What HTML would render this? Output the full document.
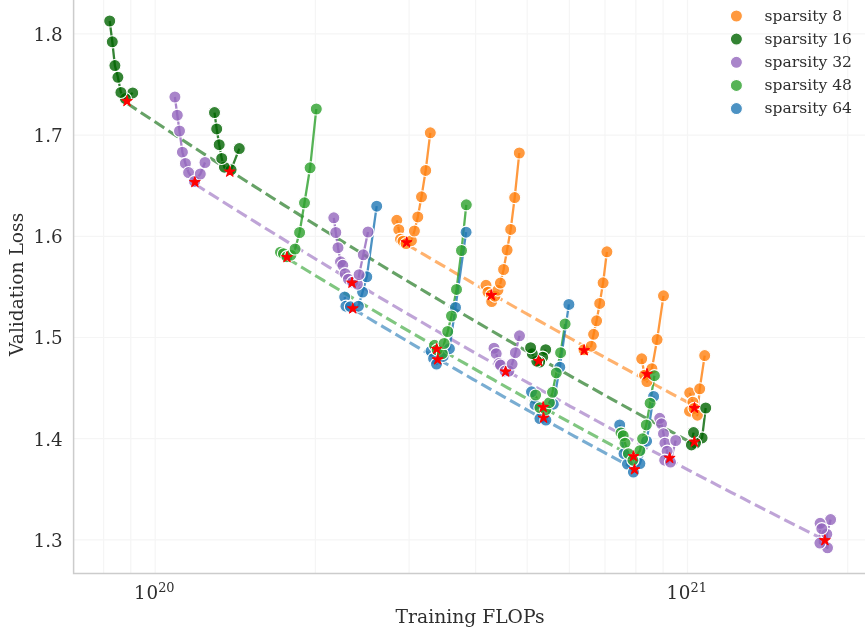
<!DOCTYPE html>
<html><head><meta charset="utf-8"><title>Validation Loss vs Training FLOPs</title>
<style>html,body{margin:0;padding:0;background:#fff}svg{display:block}</style></head>
<body>
<svg width="865" height="635" viewBox="0 0 865 635">
<rect width="865" height="635" fill="#fff"/>
<path d="M103.6 0V573.5M130.8 0V573.5M155.2 0V573.5M315.4 0V573.5M409.1 0V573.5M475.6 0V573.5M527.2 0V573.5M569.4 0V573.5M605.0 0V573.5M635.9 0V573.5M663.1 0V573.5M687.5 0V573.5M847.7 0V573.5M73.6 33.9H865M73.6 135.1H865M73.6 236.3H865M73.6 337.5H865M73.6 438.7H865M73.6 539.9H865" stroke="#cccccc" stroke-opacity="0.2" stroke-width="1.2" fill="none"/>
<path d="M73.6 0V573.5H865" stroke="#cccccc" stroke-width="1.5" fill="none"/>
<path d="M396.8 220.3 L398.8 229.7 L400.5 239.2 L403.0 241.2 L406.1 243.6 L411.4 240.7 L414.4 231.0 L417.8 216.9 L421.5 196.8 L425.7 170.4 L430.3 132.8" stroke="#ff7f0e" stroke-opacity="0.8" stroke-width="2.3" fill="none" stroke-linejoin="round"/>
<path d="M486.0 285.3 L488.0 292.2 L491.4 294.9 L491.7 301.6 L494.9 296.2 L497.9 290.2 L500.4 283.1 L503.6 269.5 L507.1 250.0 L510.7 229.4 L514.7 197.6 L519.3 153.0" stroke="#ff7f0e" stroke-opacity="0.8" stroke-width="2.3" fill="none" stroke-linejoin="round"/>
<path d="M584.0 349.7 L591.2 346.2 L593.6 334.3 L596.6 320.8 L599.7 303.4 L603.1 282.8 L606.9 251.8" stroke="#ff7f0e" stroke-opacity="0.8" stroke-width="2.3" fill="none" stroke-linejoin="round"/>
<path d="M641.7 358.8 L644.5 375.2 L646.9 381.6 L651.9 368.7 L657.1 339.6 L663.5 295.8" stroke="#ff7f0e" stroke-opacity="0.8" stroke-width="2.3" fill="none" stroke-linejoin="round"/>
<path d="M689.7 392.8 L692.9 402.2 L689.5 411.2 L694.1 408.4 L697.4 415.2 L699.7 388.8 L704.7 355.6" stroke="#ff7f0e" stroke-opacity="0.8" stroke-width="2.3" fill="none" stroke-linejoin="round"/>
<path d="M406.60 244.34 L412.73 247.96 L418.85 251.57 L424.98 255.17 L431.10 258.76 L437.23 262.35 L443.35 265.93 L449.48 269.50 L455.60 273.06 L461.73 276.62 L467.86 280.17 L473.98 283.70 L480.11 287.24 L486.23 290.76 L492.36 294.27 L498.48 297.78 L504.61 301.28 L510.73 304.77 L516.86 308.25 L522.99 311.73 L529.11 315.20 L535.24 318.66 L541.36 322.11 L547.49 325.55 L553.61 328.99 L559.74 332.42 L565.86 335.84 L571.99 339.26 L578.11 342.66 L584.24 346.06 L590.37 349.45 L596.49 352.83 L602.62 356.21 L608.74 359.58 L614.87 362.94 L620.99 366.29 L627.12 369.64 L633.24 372.97 L639.37 376.30 L645.50 379.63 L651.62 382.94 L657.75 386.25 L663.87 389.55 L670.00 392.84 L676.12 396.13 L682.25 399.41 L688.37 402.68 L694.50 405.94" stroke="#ff7f0e" stroke-opacity="0.6" stroke-width="3.1" stroke-dasharray="11.55 5.0" fill="none"/>
<path d="M109.7 21.0 L112.3 41.8 L114.9 65.6 L117.9 77.3 L120.9 92.4 L125.4 98.6 L132.7 92.9" stroke="#006400" stroke-opacity="0.8" stroke-width="2.3" fill="none" stroke-linejoin="round"/>
<path d="M214.5 112.6 L216.7 128.9 L219.2 144.7 L221.7 158.4 L224.4 167.2 L231.1 169.8 L239.3 148.6" stroke="#006400" stroke-opacity="0.8" stroke-width="2.3" fill="none" stroke-linejoin="round"/>
<path d="M530.6 347.7 L532.3 353.7 L536.8 361.2 L539.7 362.1 L542.7 357.2 L545.7 349.7" stroke="#006400" stroke-opacity="0.8" stroke-width="2.3" fill="none" stroke-linejoin="round"/>
<path d="M693.5 432.6 L691.4 444.9 L695.5 443.1 L702.1 437.9 L705.7 408.0" stroke="#006400" stroke-opacity="0.8" stroke-width="2.3" fill="none" stroke-linejoin="round"/>
<path d="M127.00 103.24 L139.07 111.29 L151.14 119.30 L163.22 127.28 L175.29 135.22 L187.36 143.13 L199.43 151.00 L211.51 158.83 L223.58 166.62 L235.65 174.38 L247.72 182.11 L259.80 189.80 L271.87 197.45 L283.94 205.07 L296.01 212.65 L308.09 220.20 L320.16 227.72 L332.23 235.20 L344.30 242.64 L356.37 250.05 L368.45 257.43 L380.52 264.77 L392.59 272.08 L404.66 279.36 L416.74 286.60 L428.81 293.81 L440.88 300.99 L452.95 308.13 L465.03 315.24 L477.10 322.32 L489.17 329.36 L501.24 336.37 L513.31 343.35 L525.39 350.30 L537.46 357.22 L549.53 364.10 L561.60 370.96 L573.68 377.78 L585.75 384.57 L597.82 391.33 L609.89 398.05 L621.97 404.75 L634.04 411.42 L646.11 418.05 L658.18 424.66 L670.26 431.23 L682.33 437.78 L694.40 444.29" stroke="#006400" stroke-opacity="0.6" stroke-width="3.1" stroke-dasharray="11.55 5.0" fill="none"/>
<path d="M174.9 97.0 L177.3 115.2 L179.5 131.0 L182.4 152.2 L185.4 163.4 L188.6 172.6 L194.5 181.4 L200.3 174.0 L205.0 162.5" stroke="#9467bd" stroke-opacity="0.8" stroke-width="2.3" fill="none" stroke-linejoin="round"/>
<path d="M333.8 217.8 L335.8 232.5 L338.0 247.7 L340.5 261.8 L342.8 265.3 L345.1 273.7 L348.4 279.2 L352.6 282.2 L357.4 284.2 L359.1 274.7 L363.3 254.8 L368.0 232.0" stroke="#9467bd" stroke-opacity="0.8" stroke-width="2.3" fill="none" stroke-linejoin="round"/>
<path d="M494.0 348.2 L496.2 353.7 L499.0 363.6 L500.5 365.1 L505.0 371.1 L508.9 371.1 L512.1 364.1 L515.4 352.7 L519.5 335.8" stroke="#9467bd" stroke-opacity="0.8" stroke-width="2.3" fill="none" stroke-linejoin="round"/>
<path d="M659.7 418.3 L661.5 423.8 L663.5 433.7 L664.9 443.2 L667.1 451.2 L664.7 460.2 L670.5 462.1 L675.7 440.5" stroke="#9467bd" stroke-opacity="0.8" stroke-width="2.3" fill="none" stroke-linejoin="round"/>
<path d="M830.6 519.6 L826.8 534.2 L827.5 547.8 L819.9 543.1 L820.1 523.3 L821.8 528.7" stroke="#9467bd" stroke-opacity="0.8" stroke-width="2.3" fill="none" stroke-linejoin="round"/>
<path d="M194.90 184.02 L208.30 192.51 L221.71 200.97 L235.11 209.38 L248.52 217.74 L261.92 226.07 L275.33 234.35 L288.73 242.59 L302.13 250.79 L315.54 258.95 L328.94 267.07 L342.35 275.14 L355.75 283.17 L369.16 291.17 L382.56 299.12 L395.96 307.03 L409.37 314.90 L422.77 322.73 L436.18 330.52 L449.58 338.28 L462.99 345.99 L476.39 353.66 L489.79 361.30 L503.20 368.89 L516.60 376.45 L530.01 383.97 L543.41 391.45 L556.81 398.89 L570.22 406.29 L583.62 413.66 L597.03 420.99 L610.43 428.28 L623.84 435.54 L637.24 442.75 L650.64 449.94 L664.05 457.08 L677.45 464.19 L690.86 471.26 L704.26 478.30 L717.67 485.30 L731.07 492.26 L744.47 499.19 L757.88 506.09 L771.28 512.95 L784.69 519.77 L798.09 526.56 L811.50 533.32 L824.90 540.04" stroke="#9467bd" stroke-opacity="0.6" stroke-width="3.1" stroke-dasharray="11.55 5.0" fill="none"/>
<path d="M280.5 252.2 L283.5 253.7 L286.9 256.7 L290.9 255.2 L295.1 249.0 L299.6 232.5 L304.5 202.8 L310.1 167.8 L316.3 109.0" stroke="#2ca02c" stroke-opacity="0.8" stroke-width="2.3" fill="none" stroke-linejoin="round"/>
<path d="M434.5 345.3 L437.1 349.9 L442.4 353.7 L444.1 343.5 L447.7 331.5 L451.5 316.0 L456.5 289.4 L461.5 250.5 L466.3 204.8" stroke="#2ca02c" stroke-opacity="0.8" stroke-width="2.3" fill="none" stroke-linejoin="round"/>
<path d="M535.6 395.0 L539.9 407.7 L545.9 409.7 L549.4 402.7 L552.5 392.3 L556.3 372.9 L560.6 352.7 L565.1 323.9" stroke="#2ca02c" stroke-opacity="0.8" stroke-width="2.3" fill="none" stroke-linejoin="round"/>
<path d="M621.0 432.9 L623.2 435.7 L625.0 443.2 L628.4 453.7 L632.9 460.2 L639.9 450.7 L642.6 438.8 L646.3 424.9 L650.1 403.2 L654.4 375.7" stroke="#2ca02c" stroke-opacity="0.8" stroke-width="2.3" fill="none" stroke-linejoin="round"/>
<path d="M287.00 258.27 L294.37 262.77 L301.74 267.27 L309.12 271.75 L316.49 276.21 L323.86 280.67 L331.23 285.11 L338.61 289.54 L345.98 293.96 L353.35 298.36 L360.72 302.75 L368.10 307.13 L375.47 311.50 L382.84 315.85 L390.21 320.20 L397.59 324.53 L404.96 328.85 L412.33 333.15 L419.70 337.45 L427.07 341.73 L434.45 346.00 L441.82 350.25 L449.19 354.50 L456.56 358.73 L463.94 362.96 L471.31 367.17 L478.68 371.36 L486.05 375.55 L493.43 379.72 L500.80 383.89 L508.17 388.04 L515.54 392.18 L522.91 396.30 L530.29 400.42 L537.66 404.52 L545.03 408.62 L552.40 412.70 L559.78 416.77 L567.15 420.82 L574.52 424.87 L581.89 428.91 L589.27 432.93 L596.64 436.94 L604.01 440.94 L611.38 444.93 L618.76 448.91 L626.13 452.88 L633.50 456.84" stroke="#2ca02c" stroke-opacity="0.6" stroke-width="3.1" stroke-dasharray="11.55 5.0" fill="none"/>
<path d="M344.7 297.0 L345.9 306.2 L350.4 306.7 L358.4 306.2 L362.6 292.1 L366.8 276.8 L376.7 206.2" stroke="#1f77b4" stroke-opacity="0.8" stroke-width="2.3" fill="none" stroke-linejoin="round"/>
<path d="M431.0 351.2 L433.6 358.4 L436.5 364.1 L443.1 356.4 L449.4 348.7 L455.5 307.4 L466.1 232.2" stroke="#1f77b4" stroke-opacity="0.8" stroke-width="2.3" fill="none" stroke-linejoin="round"/>
<path d="M531.5 391.8 L535.0 404.7 L539.9 418.6 L545.9 420.1 L553.3 404.2 L559.8 367.2 L568.9 304.4" stroke="#1f77b4" stroke-opacity="0.8" stroke-width="2.3" fill="none" stroke-linejoin="round"/>
<path d="M619.7 424.9 L624.0 453.7 L627.4 464.1 L633.4 472.1 L639.9 463.6 L646.6 441.2 L653.6 396.4" stroke="#1f77b4" stroke-opacity="0.8" stroke-width="2.3" fill="none" stroke-linejoin="round"/>
<path d="M352.80 308.72 L358.79 312.32 L364.79 315.90 L370.78 319.48 L376.77 323.05 L382.77 326.61 L388.76 330.16 L394.76 333.71 L400.75 337.24 L406.74 340.77 L412.74 344.29 L418.73 347.80 L424.72 351.31 L430.72 354.80 L436.71 358.29 L442.70 361.77 L448.70 365.24 L454.69 368.70 L460.69 372.16 L466.68 375.60 L472.67 379.04 L478.67 382.47 L484.66 385.90 L490.65 389.31 L496.65 392.72 L502.64 396.12 L508.63 399.51 L514.63 402.89 L520.62 406.27 L526.61 409.64 L532.61 413.00 L538.60 416.35 L544.60 419.69 L550.59 423.03 L556.58 426.36 L562.58 429.68 L568.57 432.99 L574.56 436.30 L580.56 439.60 L586.55 442.89 L592.54 446.17 L598.54 449.44 L604.53 452.71 L610.53 455.97 L616.52 459.22 L622.51 462.47 L628.51 465.70 L634.50 468.93" stroke="#1f77b4" stroke-opacity="0.6" stroke-width="3.1" stroke-dasharray="11.55 5.0" fill="none"/>
<g fill="#ff7f0e" fill-opacity="0.8" stroke="#fff" stroke-width="1.1">
<circle cx="396.8" cy="220.3" r="6.05"/>
<circle cx="398.8" cy="229.7" r="6.05"/>
<circle cx="400.5" cy="239.2" r="6.05"/>
<circle cx="403.0" cy="241.2" r="6.05"/>
<circle cx="406.1" cy="243.6" r="6.05"/>
<circle cx="411.4" cy="240.7" r="6.05"/>
<circle cx="414.4" cy="231.0" r="6.05"/>
<circle cx="417.8" cy="216.9" r="6.05"/>
<circle cx="421.5" cy="196.8" r="6.05"/>
<circle cx="425.7" cy="170.4" r="6.05"/>
<circle cx="430.3" cy="132.8" r="6.05"/>
<circle cx="486.0" cy="285.3" r="6.05"/>
<circle cx="488.0" cy="292.2" r="6.05"/>
<circle cx="491.4" cy="294.9" r="6.05"/>
<circle cx="491.7" cy="301.6" r="6.05"/>
<circle cx="494.9" cy="296.2" r="6.05"/>
<circle cx="497.9" cy="290.2" r="6.05"/>
<circle cx="500.4" cy="283.1" r="6.05"/>
<circle cx="503.6" cy="269.5" r="6.05"/>
<circle cx="507.1" cy="250.0" r="6.05"/>
<circle cx="510.7" cy="229.4" r="6.05"/>
<circle cx="514.7" cy="197.6" r="6.05"/>
<circle cx="519.3" cy="153.0" r="6.05"/>
<circle cx="584.0" cy="349.7" r="6.05"/>
<circle cx="591.2" cy="346.2" r="6.05"/>
<circle cx="593.6" cy="334.3" r="6.05"/>
<circle cx="596.6" cy="320.8" r="6.05"/>
<circle cx="599.7" cy="303.4" r="6.05"/>
<circle cx="603.1" cy="282.8" r="6.05"/>
<circle cx="606.9" cy="251.8" r="6.05"/>
<circle cx="641.7" cy="358.8" r="6.05"/>
<circle cx="644.5" cy="375.2" r="6.05"/>
<circle cx="646.9" cy="381.6" r="6.05"/>
<circle cx="651.9" cy="368.7" r="6.05"/>
<circle cx="657.1" cy="339.6" r="6.05"/>
<circle cx="663.5" cy="295.8" r="6.05"/>
<circle cx="689.7" cy="392.8" r="6.05"/>
<circle cx="692.9" cy="402.2" r="6.05"/>
<circle cx="689.5" cy="411.2" r="6.05"/>
<circle cx="694.1" cy="408.4" r="6.05"/>
<circle cx="697.4" cy="415.2" r="6.05"/>
<circle cx="699.7" cy="388.8" r="6.05"/>
<circle cx="704.7" cy="355.6" r="6.05"/>
</g>
<g fill="#1f77b4" fill-opacity="0.8" stroke="#fff" stroke-width="1.1">
<circle cx="344.7" cy="297.0" r="6.05"/>
<circle cx="345.9" cy="306.2" r="6.05"/>
<circle cx="350.4" cy="306.7" r="6.05"/>
<circle cx="358.4" cy="306.2" r="6.05"/>
<circle cx="362.6" cy="292.1" r="6.05"/>
<circle cx="366.8" cy="276.8" r="6.05"/>
<circle cx="376.7" cy="206.2" r="6.05"/>
<circle cx="431.0" cy="351.2" r="6.05"/>
<circle cx="433.6" cy="358.4" r="6.05"/>
<circle cx="436.5" cy="364.1" r="6.05"/>
<circle cx="443.1" cy="356.4" r="6.05"/>
<circle cx="449.4" cy="348.7" r="6.05"/>
<circle cx="455.5" cy="307.4" r="6.05"/>
<circle cx="466.1" cy="232.2" r="6.05"/>
<circle cx="531.5" cy="391.8" r="6.05"/>
<circle cx="535.0" cy="404.7" r="6.05"/>
<circle cx="539.9" cy="418.6" r="6.05"/>
<circle cx="545.9" cy="420.1" r="6.05"/>
<circle cx="553.3" cy="404.2" r="6.05"/>
<circle cx="559.8" cy="367.2" r="6.05"/>
<circle cx="568.9" cy="304.4" r="6.05"/>
<circle cx="619.7" cy="424.9" r="6.05"/>
<circle cx="624.0" cy="453.7" r="6.05"/>
<circle cx="627.4" cy="464.1" r="6.05"/>
<circle cx="633.4" cy="472.1" r="6.05"/>
<circle cx="639.9" cy="463.6" r="6.05"/>
<circle cx="646.6" cy="441.2" r="6.05"/>
<circle cx="653.6" cy="396.4" r="6.05"/>
</g>
<g fill="#9467bd" fill-opacity="0.8" stroke="#fff" stroke-width="1.1">
<circle cx="174.9" cy="97.0" r="6.05"/>
<circle cx="177.3" cy="115.2" r="6.05"/>
<circle cx="179.5" cy="131.0" r="6.05"/>
<circle cx="182.4" cy="152.2" r="6.05"/>
<circle cx="185.4" cy="163.4" r="6.05"/>
<circle cx="188.6" cy="172.6" r="6.05"/>
<circle cx="194.5" cy="181.4" r="6.05"/>
<circle cx="200.3" cy="174.0" r="6.05"/>
<circle cx="205.0" cy="162.5" r="6.05"/>
<circle cx="333.8" cy="217.8" r="6.05"/>
<circle cx="335.8" cy="232.5" r="6.05"/>
<circle cx="338.0" cy="247.7" r="6.05"/>
<circle cx="340.5" cy="261.8" r="6.05"/>
<circle cx="342.8" cy="265.3" r="6.05"/>
<circle cx="345.1" cy="273.7" r="6.05"/>
<circle cx="348.4" cy="279.2" r="6.05"/>
<circle cx="352.6" cy="282.2" r="6.05"/>
<circle cx="357.4" cy="284.2" r="6.05"/>
<circle cx="359.1" cy="274.7" r="6.05"/>
<circle cx="363.3" cy="254.8" r="6.05"/>
<circle cx="368.0" cy="232.0" r="6.05"/>
<circle cx="494.0" cy="348.2" r="6.05"/>
<circle cx="496.2" cy="353.7" r="6.05"/>
<circle cx="499.0" cy="363.6" r="6.05"/>
<circle cx="500.5" cy="365.1" r="6.05"/>
<circle cx="505.0" cy="371.1" r="6.05"/>
<circle cx="508.9" cy="371.1" r="6.05"/>
<circle cx="512.1" cy="364.1" r="6.05"/>
<circle cx="515.4" cy="352.7" r="6.05"/>
<circle cx="519.5" cy="335.8" r="6.05"/>
<circle cx="659.7" cy="418.3" r="6.05"/>
<circle cx="661.5" cy="423.8" r="6.05"/>
<circle cx="663.5" cy="433.7" r="6.05"/>
<circle cx="664.9" cy="443.2" r="6.05"/>
<circle cx="667.1" cy="451.2" r="6.05"/>
<circle cx="664.7" cy="460.2" r="6.05"/>
<circle cx="670.5" cy="462.1" r="6.05"/>
<circle cx="675.7" cy="440.5" r="6.05"/>
<circle cx="830.6" cy="519.6" r="6.05"/>
<circle cx="826.8" cy="534.2" r="6.05"/>
<circle cx="827.5" cy="547.8" r="6.05"/>
<circle cx="819.9" cy="543.1" r="6.05"/>
<circle cx="820.1" cy="523.3" r="6.05"/>
<circle cx="821.8" cy="528.7" r="6.05"/>
</g>
<g fill="#2ca02c" fill-opacity="0.8" stroke="#fff" stroke-width="1.1">
<circle cx="280.5" cy="252.2" r="6.05"/>
<circle cx="283.5" cy="253.7" r="6.05"/>
<circle cx="286.9" cy="256.7" r="6.05"/>
<circle cx="290.9" cy="255.2" r="6.05"/>
<circle cx="295.1" cy="249.0" r="6.05"/>
<circle cx="299.6" cy="232.5" r="6.05"/>
<circle cx="304.5" cy="202.8" r="6.05"/>
<circle cx="310.1" cy="167.8" r="6.05"/>
<circle cx="316.3" cy="109.0" r="6.05"/>
<circle cx="434.5" cy="345.3" r="6.05"/>
<circle cx="437.1" cy="349.9" r="6.05"/>
<circle cx="442.4" cy="353.7" r="6.05"/>
<circle cx="444.1" cy="343.5" r="6.05"/>
<circle cx="447.7" cy="331.5" r="6.05"/>
<circle cx="451.5" cy="316.0" r="6.05"/>
<circle cx="456.5" cy="289.4" r="6.05"/>
<circle cx="461.5" cy="250.5" r="6.05"/>
<circle cx="466.3" cy="204.8" r="6.05"/>
<circle cx="535.6" cy="395.0" r="6.05"/>
<circle cx="539.9" cy="407.7" r="6.05"/>
<circle cx="545.9" cy="409.7" r="6.05"/>
<circle cx="549.4" cy="402.7" r="6.05"/>
<circle cx="552.5" cy="392.3" r="6.05"/>
<circle cx="556.3" cy="372.9" r="6.05"/>
<circle cx="560.6" cy="352.7" r="6.05"/>
<circle cx="565.1" cy="323.9" r="6.05"/>
<circle cx="621.0" cy="432.9" r="6.05"/>
<circle cx="623.2" cy="435.7" r="6.05"/>
<circle cx="625.0" cy="443.2" r="6.05"/>
<circle cx="628.4" cy="453.7" r="6.05"/>
<circle cx="632.9" cy="460.2" r="6.05"/>
<circle cx="639.9" cy="450.7" r="6.05"/>
<circle cx="642.6" cy="438.8" r="6.05"/>
<circle cx="646.3" cy="424.9" r="6.05"/>
<circle cx="650.1" cy="403.2" r="6.05"/>
<circle cx="654.4" cy="375.7" r="6.05"/>
</g>
<g fill="#006400" fill-opacity="0.8" stroke="#fff" stroke-width="1.1">
<circle cx="132.7" cy="92.9" r="6.05"/>
<circle cx="125.4" cy="98.6" r="6.05"/>
<circle cx="120.9" cy="92.4" r="6.05"/>
<circle cx="117.9" cy="77.3" r="6.05"/>
<circle cx="114.9" cy="65.6" r="6.05"/>
<circle cx="112.3" cy="41.8" r="6.05"/>
<circle cx="109.7" cy="21.0" r="6.05"/>
<circle cx="239.3" cy="148.6" r="6.05"/>
<circle cx="231.1" cy="169.8" r="6.05"/>
<circle cx="224.4" cy="167.2" r="6.05"/>
<circle cx="221.7" cy="158.4" r="6.05"/>
<circle cx="219.2" cy="144.7" r="6.05"/>
<circle cx="216.7" cy="128.9" r="6.05"/>
<circle cx="214.5" cy="112.6" r="6.05"/>
<circle cx="545.7" cy="349.7" r="6.05"/>
<circle cx="542.7" cy="357.2" r="6.05"/>
<circle cx="539.7" cy="362.1" r="6.05"/>
<circle cx="536.8" cy="361.2" r="6.05"/>
<circle cx="532.3" cy="353.7" r="6.05"/>
<circle cx="530.6" cy="347.7" r="6.05"/>
<circle cx="705.7" cy="408.0" r="6.05"/>
<circle cx="702.1" cy="437.9" r="6.05"/>
<circle cx="695.5" cy="443.1" r="6.05"/>
<circle cx="691.4" cy="444.9" r="6.05"/>
<circle cx="693.5" cy="432.6" r="6.05"/>
</g>
<path d="M406.60 236.80L407.88 240.74L412.02 240.74L408.67 243.17L409.95 247.11L406.60 244.68L403.25 247.11L404.53 243.17L401.18 240.74L405.32 240.74ZM491.30 289.60L492.58 293.54L496.72 293.54L493.37 295.97L494.65 299.91L491.30 297.48L487.95 299.91L489.23 295.97L485.88 293.54L490.02 293.54ZM584.20 344.70L585.48 348.64L589.62 348.64L586.27 351.07L587.55 355.01L584.20 352.58L580.85 355.01L582.13 351.07L578.78 348.64L582.92 348.64ZM647.00 368.40L648.28 372.34L652.42 372.34L649.07 374.77L650.35 378.71L647.00 376.28L643.65 378.71L644.93 374.77L641.58 372.34L645.72 372.34ZM694.50 402.40L695.78 406.34L699.92 406.34L696.57 408.77L697.85 412.71L694.50 410.28L691.15 412.71L692.43 408.77L689.08 406.34L693.22 406.34ZM127.00 95.50L128.28 99.44L132.42 99.44L129.07 101.87L130.35 105.81L127.00 103.38L123.65 105.81L124.93 101.87L121.58 99.44L125.72 99.44ZM229.80 166.10L231.08 170.04L235.22 170.04L231.87 172.47L233.15 176.41L229.80 173.98L226.45 176.41L227.73 172.47L224.38 170.04L228.52 170.04ZM538.60 355.40L539.88 359.34L544.02 359.34L540.67 361.77L541.95 365.71L538.60 363.28L535.25 365.71L536.53 361.77L533.18 359.34L537.32 359.34ZM694.40 436.20L695.68 440.14L699.82 440.14L696.47 442.57L697.75 446.51L694.40 444.08L691.05 446.51L692.33 442.57L688.98 440.14L693.12 440.14ZM194.90 176.50L196.18 180.44L200.32 180.44L196.97 182.87L198.25 186.81L194.90 184.38L191.55 186.81L192.83 182.87L189.48 180.44L193.62 180.44ZM352.00 277.20L353.28 281.14L357.42 281.14L354.07 283.57L355.35 287.51L352.00 285.08L348.65 287.51L349.93 283.57L346.58 281.14L350.72 281.14ZM505.60 366.00L506.88 369.94L511.02 369.94L507.67 372.37L508.95 376.31L505.60 373.88L502.25 376.31L503.53 372.37L500.18 369.94L504.32 369.94ZM669.70 452.40L670.98 456.34L675.12 456.34L671.77 458.77L673.05 462.71L669.70 460.28L666.35 462.71L667.63 458.77L664.28 456.34L668.42 456.34ZM824.90 534.70L826.18 538.64L830.32 538.64L826.97 541.07L828.25 545.01L824.90 542.58L821.55 545.01L822.83 541.07L819.48 538.64L823.62 538.64ZM287.00 251.60L288.28 255.54L292.42 255.54L289.07 257.97L290.35 261.91L287.00 259.48L283.65 261.91L284.93 257.97L281.58 255.54L285.72 255.54ZM436.70 343.40L437.98 347.34L442.12 347.34L438.77 349.77L440.05 353.71L436.70 351.28L433.35 353.71L434.63 349.77L431.28 347.34L435.42 347.34ZM543.20 401.50L544.48 405.44L548.62 405.44L545.27 407.87L546.55 411.81L543.20 409.38L539.85 411.81L541.13 407.87L537.78 405.44L541.92 405.44ZM633.50 450.70L634.78 454.64L638.92 454.64L635.57 457.07L636.85 461.01L633.50 458.58L630.15 461.01L631.43 457.07L628.08 454.64L632.22 454.64ZM352.80 302.90L354.08 306.84L358.22 306.84L354.87 309.27L356.15 313.21L352.80 310.78L349.45 313.21L350.73 309.27L347.38 306.84L351.52 306.84ZM437.70 353.90L438.98 357.84L443.12 357.84L439.77 360.27L441.05 364.21L437.70 361.78L434.35 364.21L435.63 360.27L432.28 357.84L436.42 357.84ZM543.50 412.20L544.78 416.14L548.92 416.14L545.57 418.57L546.85 422.51L543.50 420.08L540.15 422.51L541.43 418.57L538.08 416.14L542.22 416.14ZM634.50 463.80L635.78 467.74L639.92 467.74L636.57 470.17L637.85 474.11L634.50 471.68L631.15 474.11L632.43 470.17L629.08 467.74L633.22 467.74Z" fill="#ff0000" stroke="#ff0000" stroke-width="1" stroke-linejoin="round"/>
<g font-family="'DejaVu Serif', 'Liberation Serif', serif" fill="#2e2e2e">
<circle cx="736.4" cy="16.0" r="6.05" fill="#ff7f0e" fill-opacity="0.8" stroke="#fff" stroke-width="1.1"/>
<text x="764.6" y="20.6" font-size="15.55">sparsity 8</text>
<circle cx="736.4" cy="39.1" r="6.05" fill="#006400" fill-opacity="0.8" stroke="#fff" stroke-width="1.1"/>
<text x="764.6" y="43.8" font-size="15.55">sparsity 16</text>
<circle cx="736.4" cy="62.3" r="6.05" fill="#9467bd" fill-opacity="0.8" stroke="#fff" stroke-width="1.1"/>
<text x="764.6" y="66.9" font-size="15.55">sparsity 32</text>
<circle cx="736.4" cy="85.4" r="6.05" fill="#2ca02c" fill-opacity="0.8" stroke="#fff" stroke-width="1.1"/>
<text x="764.6" y="90.0" font-size="15.55">sparsity 48</text>
<circle cx="736.4" cy="108.6" r="6.05" fill="#1f77b4" fill-opacity="0.8" stroke="#fff" stroke-width="1.1"/>
<text x="764.6" y="113.2" font-size="15.55">sparsity 64</text>
<text x="62.6" y="40.8" font-size="18.3" text-anchor="end">1.8</text>
<text x="62.6" y="142.0" font-size="18.3" text-anchor="end">1.7</text>
<text x="62.6" y="243.2" font-size="18.3" text-anchor="end">1.6</text>
<text x="62.6" y="344.4" font-size="18.3" text-anchor="end">1.5</text>
<text x="62.6" y="445.6" font-size="18.3" text-anchor="end">1.4</text>
<text x="62.6" y="546.8" font-size="18.3" text-anchor="end">1.3</text>
<text x="134.1" y="599" font-size="18.3"><tspan letter-spacing="0.8">1</tspan>0<tspan font-size="12.9" dy="-6.8">20</tspan></text>
<text x="666.4" y="599" font-size="18.3"><tspan letter-spacing="0.8">1</tspan>0<tspan font-size="12.9" dy="-6.8">21</tspan></text>
<text x="470.1" y="623.4" font-size="18.72" text-anchor="middle">Training FLOPs</text>
<text transform="translate(23.2 284.4) rotate(-90)" font-size="18.65" text-anchor="middle">Validation Loss</text>
</g>
</svg>
</body></html>
